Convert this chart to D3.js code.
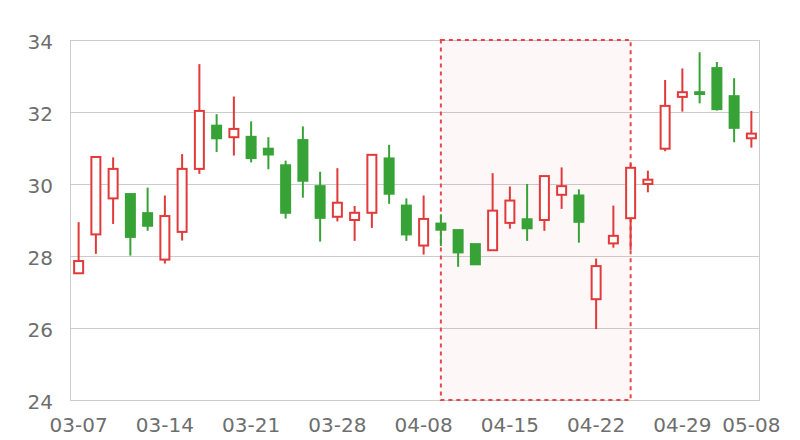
<!DOCTYPE html>
<html>
<head>
<meta charset="utf-8">
<script src="https://cdn.jsdelivr.net/npm/d3@7"></script>
<style>
  html, body { margin: 0; padding: 0; background: #fff; }
  svg { display: block; }
</style>
</head>
<body>
<svg id="chart" width="800" height="440"></svg>
<script>
const dates = ["03-07","03-08","03-11","03-12","03-13","03-14","03-15","03-18","03-19","03-20",
  "03-21","03-22","03-25","03-26","03-27","03-28","03-29","04-01","04-02","04-03",
  "04-08","04-09","04-10","04-11","04-12","04-15","04-16","04-17","04-18","04-19",
  "04-22","04-23","04-24","04-25","04-26","04-29","04-30","05-06","05-07","05-08"];
const openValues  = [27.52,28.60,29.60,29.72,29.19,27.90,28.67,30.42,31.62,31.30,
  31.31,30.98,30.52,31.22,29.94,29.09,29.00,29.20,30.71,29.40,
  28.29,28.90,28.72,28.33,28.16,28.92,29.02,29.00,29.70,29.68,
  26.80,28.35,29.05,30.00,30.98,32.42,32.55,33.22,32.44,31.27];
const closeValues = [27.86,30.75,30.42,28.53,28.84,29.11,30.42,32.03,31.27,31.53,
  30.72,30.82,29.20,30.09,29.06,29.48,29.20,30.81,29.73,28.60,
  29.03,28.73,28.10,27.77,29.26,29.54,28.77,30.22,29.94,28.95,
  27.72,28.56,30.45,30.12,32.17,32.55,32.50,32.08,31.56,31.40];
const lowValues   = [27.52,28.06,28.89,28.01,28.70,27.79,28.43,30.28,30.89,30.79,
  30.60,30.41,29.04,29.62,28.40,28.96,28.42,28.78,29.45,28.42,
  28.04,28.28,27.70,27.77,28.16,28.76,28.42,28.70,29.31,28.37,
  25.97,28.23,28.17,29.77,30.91,32.01,32.24,32.04,31.16,31.01];
const highValues  = [28.94,30.75,30.74,29.72,29.90,29.68,30.83,33.33,31.94,32.43,
  31.74,31.30,30.65,31.60,30.34,30.44,29.39,30.81,31.09,29.60,
  29.68,29.16,28.72,28.33,30.30,29.93,30.00,30.22,30.46,29.85,
  27.93,29.40,30.57,30.37,32.89,33.21,33.66,33.39,32.94,32.03];
const tickLabels = ["03-07","03-14","03-21","03-28","04-08","04-15","04-22","04-29","05-08"];
const yTicks = [24,26,28,30,32,34];
const yDomain = [24,34];
const highlightRange = ["04-09","04-24"];

const W = 800, H = 440;
const m = { left: 70, right: 40, top: 40, bottom: 40 };
const svg = d3.select("#chart");

const x = d3.scaleBand().domain(dates).range([m.left, W - m.right]).padding(0);
const y = d3.scaleLinear().domain(yDomain).range([H - m.bottom, m.top]);
const cx = d => x(d) + x.bandwidth() / 2;

const UP = "#e23a3a", DOWN = "#37a337";
const gridColor = "#cccccc", textColor = "#6e6e6e";
const FONT = "DejaVu Sans, sans-serif";

// grid lines
const yAxis = d3.axisLeft(y).tickValues(yTicks).tickSize(-(W - m.left - m.right)).tickPadding(17).tickFormat(d3.format("d"));
const gy = svg.append("g").attr("transform", `translate(${m.left},0)`).call(yAxis);
gy.select(".domain").remove();
gy.selectAll(".tick line").attr("stroke", gridColor).attr("stroke-width", 1);
gy.selectAll(".tick text").attr("fill", textColor).attr("font-size", 20).attr("font-family", FONT).attr("dy", "0.4em");

// left and right frame lines
svg.append("line").attr("x1", m.left + 0.5).attr("x2", m.left + 0.5).attr("y1", y(yDomain[1])).attr("y2", y(yDomain[0]))
  .attr("stroke", gridColor);
svg.append("line").attr("x1", W - m.right - 0.5).attr("x2", W - m.right - 0.5).attr("y1", y(yDomain[1])).attr("y2", y(yDomain[0]))
  .attr("stroke", gridColor);

// x axis labels
const xAxis = d3.axisBottom(x).tickValues(tickLabels).tickSize(0).tickPadding(18);
const gx = svg.append("g").attr("transform", `translate(0,${H - m.bottom})`).call(xAxis);
gx.select(".domain").remove();
gx.selectAll(".tick text").attr("fill", textColor).attr("font-size", 20).attr("font-family", FONT);

// highlight area
const ax0 = cx(highlightRange[0]), ax1 = cx(highlightRange[1]);
svg.append("rect")
  .attr("x", ax0).attr("y", y(yDomain[1]))
  .attr("width", ax1 - ax0).attr("height", y(yDomain[0]) - y(yDomain[1]))
  .attr("fill", "rgba(226,58,58,0.04)")
  .attr("stroke", "#e8474a").attr("stroke-width", 2).attr("stroke-dasharray", "4,4");

// candles
const data = dates.map((d, i) => ({ d, o: openValues[i], c: closeValues[i], l: lowValues[i], h: highValues[i] }));
const bw = 11;
const g = svg.append("g");
data.forEach(p => {
  const up = p.c >= p.o;
  const col = up ? UP : DOWN;
  const xc = cx(p.d);
  const top = y(Math.max(p.o, p.c)), bot = y(Math.min(p.o, p.c));
  g.append("line").attr("x1", xc).attr("x2", xc).attr("y1", y(p.h)).attr("y2", top)
    .attr("stroke", col).attr("stroke-width", 2);
  g.append("line").attr("x1", xc).attr("x2", xc).attr("y1", bot).attr("y2", y(p.l))
    .attr("stroke", col).attr("stroke-width", 2);
  if (up) {
    g.append("rect").attr("x", xc - bw / 2 + 1).attr("y", top).attr("width", bw - 2).attr("height", Math.max(bot - top, 1))
      .attr("fill", "#fff").attr("stroke", col).attr("stroke-width", 2);
  } else {
    g.append("rect").attr("x", xc - bw / 2).attr("y", top - 1).attr("width", bw).attr("height", Math.max(bot - top + 2, 2))
      .attr("fill", col);
  }
});
</script>
</body>
</html>
